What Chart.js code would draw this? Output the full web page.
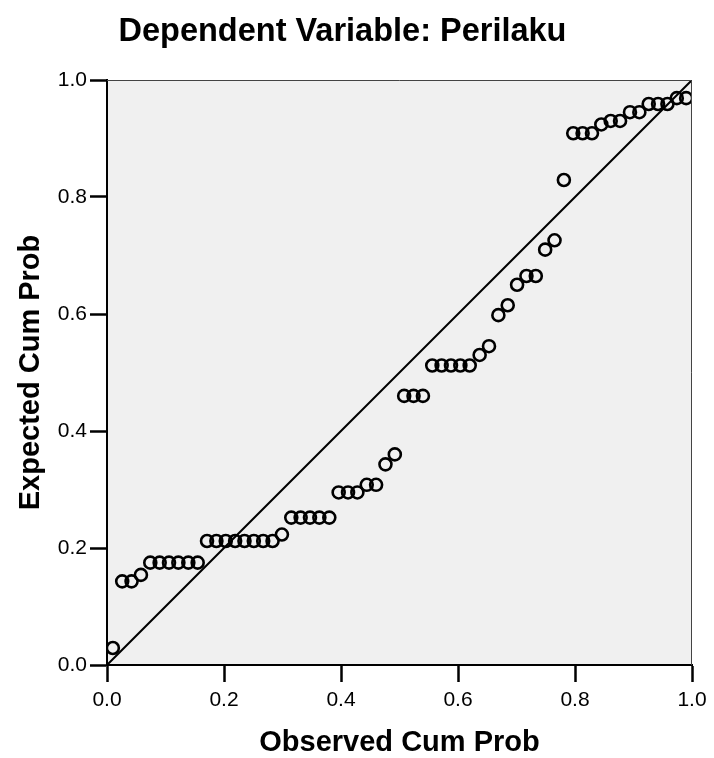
<!DOCTYPE html>
<html lang="en">

<head>
    <meta charset="UTF-8">
    <title>Normal P-P Plot</title>
    <script src="https://cdn.jsdelivr.net/npm/chart.js"></script>
    <style>
        body { margin: 0; background: #fff; }
    </style>
</head>

<body>
    <canvas id="ppChart" width="714" height="758"></canvas>

    <script>
        // observed cumulative probability (x) for each residual
        const observedCum = [
            0.010, 0.026, 0.042, 0.058, 0.074, 0.090, 0.106, 0.122, 0.139, 0.155,
            0.171, 0.187, 0.203, 0.219, 0.235, 0.251, 0.267, 0.283, 0.299, 0.315,
            0.331, 0.347, 0.363, 0.380, 0.396, 0.412, 0.428, 0.444, 0.460, 0.476,
            0.492, 0.508, 0.524, 0.540, 0.556, 0.572, 0.588, 0.604, 0.620, 0.637,
            0.653, 0.669, 0.685, 0.701, 0.717, 0.733, 0.749, 0.765, 0.781, 0.797,
            0.813, 0.829, 0.845, 0.861, 0.877, 0.894, 0.910, 0.926, 0.942, 0.958,
            0.974, 0.990
        ];
        // expected cumulative probability (y)
        const expectedCum = [
            0.029, 0.143, 0.143, 0.154, 0.175, 0.175, 0.175, 0.175, 0.175, 0.175,
            0.212, 0.212, 0.212, 0.212, 0.212, 0.212, 0.212, 0.212, 0.223, 0.252,
            0.252, 0.252, 0.252, 0.252, 0.295, 0.295, 0.295, 0.308, 0.308, 0.343,
            0.360, 0.460, 0.460, 0.460, 0.512, 0.512, 0.512, 0.512, 0.512, 0.530,
            0.545, 0.598, 0.615, 0.650, 0.665, 0.665, 0.710, 0.726, 0.829, 0.909,
            0.909, 0.909, 0.924, 0.930, 0.930, 0.945, 0.945, 0.959, 0.959, 0.959,
            0.969, 0.969
        ];
        const refLine = [0, 1];
        const tickLabels = ['0.0', '0.2', '0.4', '0.6', '0.8', '1.0'];

        const points = observedCum.map((x, i) => ({ x: x, y: expectedCum[i] }));
        const diag = refLine.map(v => ({ x: v, y: v }));

        // grey plot background + thin top/right frame, and the title
        const frame = {
            id: 'frame',
            beforeDraw(chart) {
                const { ctx, chartArea: a } = chart;
                ctx.save();
                ctx.fillStyle = '#f0f0f0';
                ctx.fillRect(a.left, a.top, a.right - a.left, a.bottom - a.top);
                ctx.restore();
            },
            afterDraw(chart) {
                const { ctx, chartArea: a } = chart;
                ctx.save();
                ctx.strokeStyle = '#444';
                ctx.lineWidth = 1;
                ctx.beginPath();
                ctx.moveTo(a.left, a.top + 0.5);
                ctx.lineTo(a.right - 0.5, a.top + 0.5);
                ctx.lineTo(a.right - 0.5, a.bottom);
                ctx.stroke();
                ctx.fillStyle = '#000';
                ctx.font = 'bold 32.5px "Liberation Sans", Arial, sans-serif';
                ctx.textAlign = 'center';
                ctx.textBaseline = 'alphabetic';
                ctx.fillText('Dependent Variable: Perilaku', 342.5, 41);
                ctx.restore();
            }
        };

        const tickFont = { family: '"Liberation Sans", Arial, sans-serif', size: 21 };
        const titleFont = { family: '"Liberation Sans", Arial, sans-serif', size: 29, weight: 'bold', lineHeight: 1 };

        const ctx = document.getElementById('ppChart').getContext('2d');
        new Chart(ctx, {
            type: 'scatter',
            data: {
                datasets: [
                    {
                        data: points,
                        pointRadius: 6,
                        pointBorderWidth: 2.6,
                        pointBorderColor: '#000',
                        pointBackgroundColor: 'rgba(0,0,0,0)'
                    },
                    {
                        type: 'line',
                        data: diag,
                        borderColor: '#000',
                        borderWidth: 2,
                        pointRadius: 0,
                        fill: false
                    }
                ]
            },
            options: {
                responsive: false,
                animation: false,
                layout: { padding: { top: 80, right: 22, left: 0, bottom: 0 } },
                plugins: {
                    legend: { display: false },
                    tooltip: { enabled: false }
                },
                scales: {
                    x: {
                        type: 'linear',
                        min: 0,
                        max: 1,
                        afterFit: s => { s.height = 93; },
                        ticks: {
                            stepSize: 0.2,
                            color: '#000',
                            font: tickFont,
                            padding: 6,
                            maxRotation: 0,
                            callback: (v, i) => tickLabels[i]
                        },
                        grid: { drawOnChartArea: false, tickLength: 17, tickWidth: 2.5, color: '#000' },
                        border: { display: true, color: '#000', width: 2 },
                        title: {
                            display: true,
                            text: 'Observed Cum Prob',
                            color: '#000',
                            font: titleFont,
                            padding: { top: 0, bottom: 1 }
                        }
                    },
                    y: {
                        type: 'linear',
                        min: 0,
                        max: 1,
                        afterFit: s => { s.width = 107; },
                        ticks: {
                            stepSize: 0.2,
                            color: '#000',
                            font: tickFont,
                            padding: 3,
                            callback: (v, i) => tickLabels[i]
                        },
                        grid: { drawOnChartArea: false, tickLength: 17, tickWidth: 2.5, color: '#000' },
                        border: { display: true, color: '#000', width: 2 },
                        title: {
                            display: true,
                            text: 'Expected Cum Prob',
                            color: '#000',
                            font: titleFont,
                            padding: { top: 16, bottom: 0 }
                        }
                    }
                }
            },
            plugins: [frame]
        });
    </script>
</body>

</html>
